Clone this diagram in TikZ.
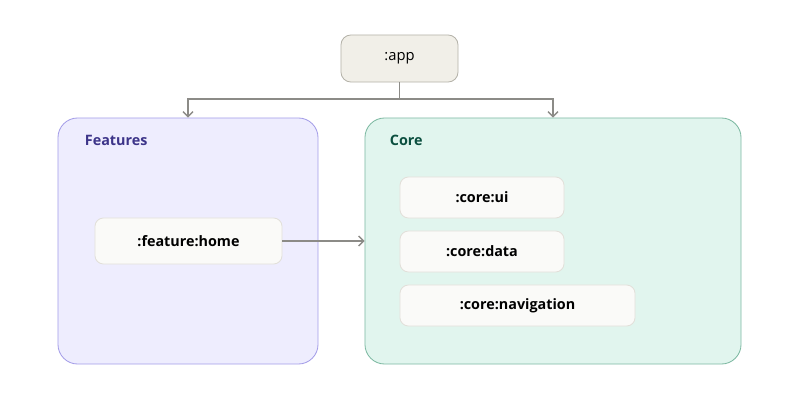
\documentclass[tikz,border=0pt]{standalone}
\usepackage{fontspec}
\setmainfont{Open Sans}
\usetikzlibrary{arrows.meta}

\definecolor{featfill}{HTML}{EEEDFE}
\definecolor{featdraw}{HTML}{A49DE8}
\definecolor{feattext}{HTML}{3C3489}
\definecolor{corefill}{HTML}{E1F5EE}
\definecolor{coredraw}{HTML}{7DB9A2}
\definecolor{coretext}{HTML}{0B4F3F}
\definecolor{appfill}{HTML}{F1EFE8}
\definecolor{appdraw}{HTML}{B4B2A9}
\definecolor{modfill}{HTML}{FAFAF8}
\definecolor{moddraw}{HTML}{E2E0DA}
\definecolor{linkgray}{HTML}{8C8B87}

\begin{document}
\begin{tikzpicture}[
          x=0.025cm, y=-0.025cm,
          every node/.style={font=\fontsize{10.5}{12}\selectfont},
          group/.style={rectangle, rounded corners=14pt, line width=0.6pt, minimum height=6.15cm},
          module/.style={rectangle, rounded corners=6pt, draw=moddraw, fill=modfill, line width=0.6pt, minimum height=1.025cm, font=\fontsize{10.2}{12}\selectfont\bfseries},
          link/.style={draw=linkgray, line width=1pt, -{Straight Barb[length=3.5pt, width=7pt]}}
        ]
        \useasboundingbox (0,0) rectangle (800,412);

        % groups
        \node[group, draw=featdraw, fill=featfill, minimum width=6.5cm] (features) at (188,241) {};
        \node[group, draw=coredraw, fill=corefill, minimum width=9.4cm] (core) at (553,241) {};
        \node[anchor=west, text=feattext, font=\fontsize{10.2}{12}\selectfont\bfseries] (featlabel) at (80,140) {Features};
        \node[anchor=west, text=coretext, font=\fontsize{10.2}{12}\selectfont\bfseries] (corelabel) at (385,140) {Core};

        % top module
        \node[rectangle, rounded corners=7pt, draw=appdraw, fill=appfill, line width=0.6pt,
              minimum width=2.925cm, minimum height=1.175cm] (app) at (399.5,58.5) {:app};

        % modules
        \node[module, minimum width=4.675cm, minimum height=1.15cm] (home) at (188.5,241) {:feature:home};
        \node[module, minimum width=4.1cm] (coreui) at (482,197.5) {:core:ui};
        \node[module, minimum width=4.1cm] (coredata) at (482,251.5) {:core:data};
        \node[module, minimum width=5.875cm] (corenav) at (517.5,305.5) {:core:navigation};

        % dependencies
        \coordinate (split) at (399.5,99);
        \draw[draw=linkgray, line width=1pt] (app.south) -- (split);
        \draw[link] (split) -| (features.north);
        \draw[link] (split) -| (core.north);
        \draw[link] (home.east) -- (core.west |- home.east);

\end{tikzpicture}
\end{document}
